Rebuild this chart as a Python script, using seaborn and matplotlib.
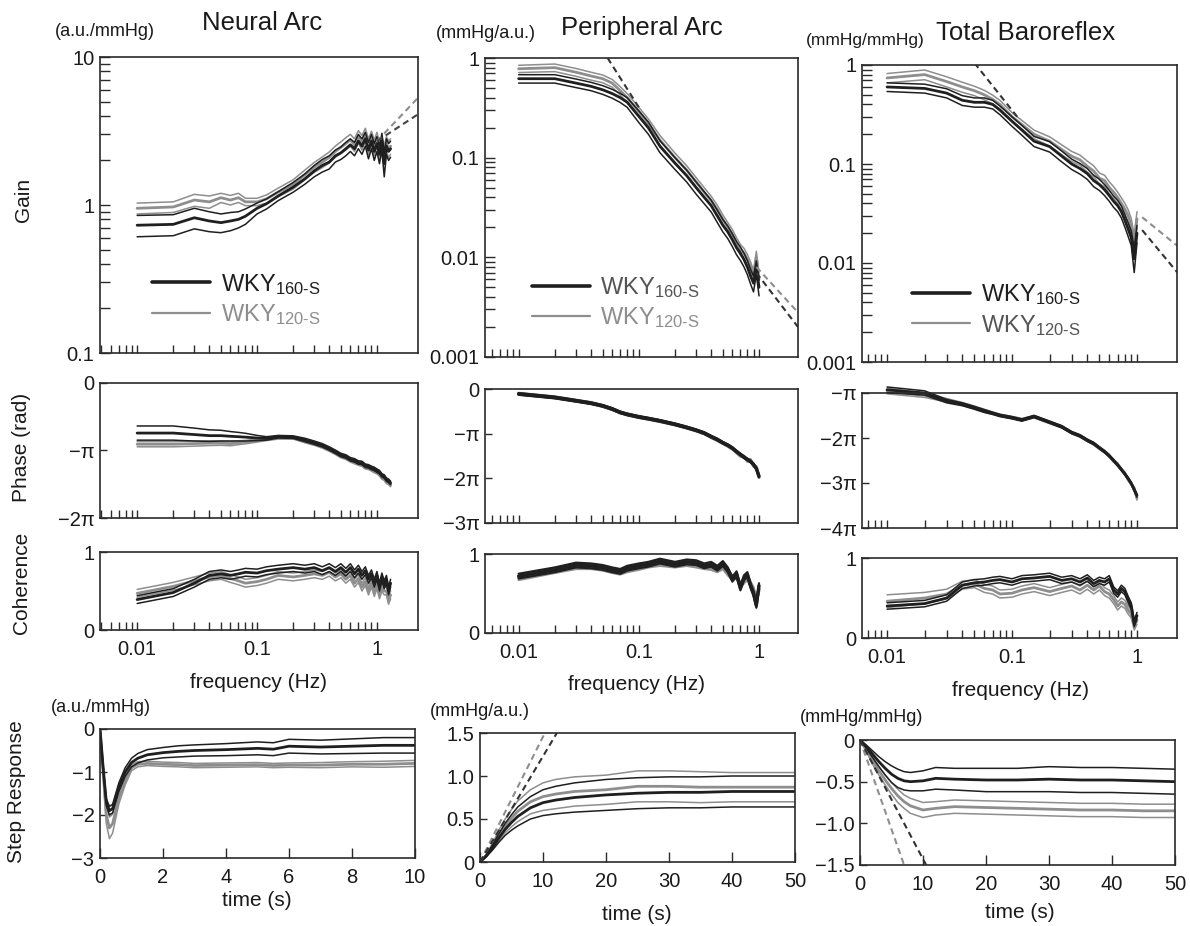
import numpy as np
import pandas as pd
import matplotlib
matplotlib.use("Agg")
import matplotlib.pyplot as plt
import seaborn as sns
from matplotlib.lines import Line2D
from matplotlib.ticker import LogLocator, NullFormatter, FuncFormatter, FixedLocator

# ---------------- DATA ----------------
# frequency grids (Hz)
FREQ_NEURAL = [0.01, 0.02, 0.03, 0.04, 0.05, 0.06, 0.07, 0.08, 0.1, 0.12, 0.15, 0.2,
               0.25, 0.3, 0.35, 0.4, 0.45, 0.5, 0.55, 0.6, 0.65, 0.7, 0.75, 0.8, 0.85,
               0.9, 0.95, 1.0, 1.05, 1.1, 1.15, 1.2, 1.25, 1.3]
FREQ_OTHER = [0.01, 0.02, 0.03, 0.04, 0.05, 0.06, 0.07, 0.08, 0.1, 0.12, 0.15, 0.2,
              0.25, 0.3, 0.35, 0.4, 0.45, 0.5, 0.55, 0.6, 0.65, 0.7, 0.75, 0.8, 0.85,
              0.9, 0.95, 1.0]

# Neural arc (a.u./mmHg)
neural_gain_160 = [0.73, 0.74, 0.82, 0.78, 0.76, 0.78, 0.80, 0.84, 0.95, 1.02, 1.15, 1.32,
                   1.5, 1.7, 1.85, 1.95, 2.15, 2.25, 2.4, 2.55, 2.4, 2.7, 2.5, 2.8, 2.35,
                   2.7, 2.3, 2.6, 2.2, 2.7, 1.9, 2.5, 2.3, 2.4]
neural_gain_160_se = [0.12, 0.12, 0.13, 0.12, 0.11, 0.11, 0.10, 0.10, 0.08, 0.08, 0.08, 0.10,
                      0.12, 0.15, 0.18, 0.2, 0.2, 0.22, 0.25, 0.25, 0.25, 0.3, 0.3, 0.3, 0.3,
                      0.3, 0.3, 0.3, 0.3, 0.35, 0.35, 0.3, 0.3, 0.3]
neural_gain_120 = [0.95, 0.97, 1.08, 1.05, 1.12, 1.08, 1.12, 1.05, 1.05, 1.1, 1.22, 1.38,
                   1.6, 1.8, 1.95, 2.1, 2.3, 2.45, 2.6, 2.75, 2.55, 2.9, 2.65, 3.0, 2.5,
                   2.85, 2.45, 2.8, 2.35, 2.6, 2.2, 2.6, 2.4, 2.5]
neural_gain_120_se = [0.08, 0.08, 0.1, 0.1, 0.08, 0.08, 0.08, 0.06, 0.06, 0.07, 0.08, 0.1,
                      0.12, 0.14, 0.16, 0.18, 0.2, 0.22, 0.25, 0.25, 0.25, 0.28, 0.3, 0.3, 0.3,
                      0.3, 0.3, 0.3, 0.3, 0.3, 0.3, 0.3, 0.3, 0.3]
neural_phase_160 = [-2.33, -2.33, -2.40, -2.45, -2.45, -2.48, -2.50, -2.52, -2.56, -2.58, -2.50, -2.52,
                    -2.65, -2.78, -2.90, -3.05, -3.20, -3.35, -3.42, -3.55, -3.60, -3.70, -3.72, -3.85,
                    -3.88, -3.95, -4.00, -4.08, -4.15, -4.30, -4.35, -4.50, -4.55, -4.65]
neural_phase_160_se = [0.33, 0.33, 0.30, 0.27, 0.25, 0.22, 0.20, 0.18, 0.12, 0.08, 0.06, 0.06,
                       0.08, 0.08, 0.08, 0.08, 0.08, 0.08, 0.08, 0.08, 0.08, 0.08, 0.08, 0.08,
                       0.08, 0.08, 0.08, 0.08, 0.08, 0.08, 0.08, 0.08, 0.08, 0.08]
neural_phase_120 = [-2.85, -2.85, -2.82, -2.80, -2.80, -2.82, -2.78, -2.75, -2.68, -2.62, -2.55, -2.55,
                    -2.70, -2.82, -2.95, -3.10, -3.25, -3.40, -3.48, -3.60, -3.68, -3.75, -3.80, -3.92,
                    -3.95, -4.02, -4.10, -4.15, -4.25, -4.40, -4.45, -4.60, -4.65, -4.75]
neural_phase_120_se = [0.12, 0.12, 0.12, 0.11, 0.10, 0.10, 0.09, 0.08, 0.07, 0.06, 0.06, 0.06,
                       0.08, 0.08, 0.08, 0.08, 0.08, 0.08, 0.08, 0.08, 0.08, 0.08, 0.08, 0.08,
                       0.08, 0.08, 0.08, 0.08, 0.08, 0.08, 0.08, 0.08, 0.08, 0.08]
neural_coh_160 = [0.39, 0.48, 0.60, 0.70, 0.72, 0.70, 0.72, 0.74, 0.73, 0.76, 0.78, 0.80,
                  0.78, 0.80, 0.76, 0.80, 0.75, 0.80, 0.74, 0.80, 0.72, 0.78, 0.70, 0.76,
                  0.65, 0.72, 0.60, 0.70, 0.55, 0.68, 0.58, 0.65, 0.50, 0.60]
neural_coh_160_se = [0.05, 0.05, 0.05, 0.05, 0.05, 0.05, 0.05, 0.05, 0.05, 0.05, 0.05, 0.05,
                     0.05, 0.05, 0.05, 0.05, 0.05, 0.05, 0.05, 0.05, 0.05, 0.05, 0.05, 0.05,
                     0.05, 0.05, 0.05, 0.05, 0.05, 0.05, 0.05, 0.05, 0.05, 0.05]
neural_coh_120 = [0.47, 0.56, 0.63, 0.68, 0.70, 0.66, 0.63, 0.60, 0.62, 0.65, 0.70, 0.68,
                  0.70, 0.72, 0.70, 0.74, 0.68, 0.72, 0.65, 0.70, 0.60, 0.66, 0.55, 0.62,
                  0.50, 0.60, 0.48, 0.58, 0.45, 0.55, 0.50, 0.50, 0.38, 0.45]
neural_coh_120_se = [0.05, 0.05, 0.05, 0.05, 0.05, 0.05, 0.05, 0.05, 0.05, 0.05, 0.05, 0.05,
                     0.05, 0.05, 0.05, 0.05, 0.05, 0.05, 0.05, 0.05, 0.05, 0.05, 0.05, 0.05,
                     0.05, 0.05, 0.05, 0.05, 0.05, 0.05, 0.05, 0.05, 0.05, 0.05]

# Peripheral arc (mmHg/a.u.)
peri_gain_160 = [0.62, 0.62, 0.56, 0.52, 0.48, 0.44, 0.40, 0.36, 0.26, 0.20, 0.13, 0.088,
                 0.066, 0.050, 0.040, 0.033, 0.026, 0.021, 0.018, 0.015, 0.0125, 0.011, 0.0095,
                 0.008, 0.0065, 0.0055, 0.008, 0.005]
peri_gain_160_se = [0.06, 0.06, 0.055, 0.05, 0.048, 0.045, 0.042, 0.04, 0.035, 0.028, 0.018, 0.012,
                    0.009, 0.007, 0.0055, 0.0045, 0.0037, 0.003, 0.0026, 0.0022, 0.0019, 0.0017,
                    0.0015, 0.0013, 0.0011, 0.001, 0.0012, 0.0009]
peri_gain_120 = [0.78, 0.80, 0.72, 0.66, 0.62, 0.56, 0.47, 0.40, 0.29, 0.22, 0.15, 0.10,
                 0.075, 0.057, 0.045, 0.037, 0.030, 0.024, 0.020, 0.017, 0.014, 0.012, 0.011,
                 0.0095, 0.008, 0.0065, 0.010, 0.006]
peri_gain_120_se = [0.065, 0.07, 0.065, 0.06, 0.055, 0.05, 0.045, 0.04, 0.03, 0.025, 0.017, 0.011,
                    0.008, 0.006, 0.005, 0.004, 0.0033, 0.0027, 0.0023, 0.002, 0.0017, 0.0015,
                    0.0013, 0.0012, 0.001, 0.0009, 0.0015, 0.001]
peri_phase_160 = [-0.35, -0.60, -0.83, -1.00, -1.18, -1.40, -1.65, -1.78, -1.96, -2.08, -2.24, -2.48,
                  -2.70, -2.90, -3.10, -3.35, -3.55, -3.78, -3.95, -4.15, -4.40, -4.60, -4.80,
                  -4.95, -5.10, -5.30, -5.60, -6.14]
peri_phase_120 = [-0.33, -0.58, -0.82, -0.98, -1.20, -1.42, -1.63, -1.80, -1.98, -2.10, -2.26, -2.50,
                  -2.72, -2.92, -3.12, -3.38, -3.60, -3.80, -4.00, -4.20, -4.45, -4.70, -4.75,
                  -5.05, -5.00, -5.40, -5.50, -6.20]
peri_phase_se = [0.06, 0.06, 0.06, 0.06, 0.06, 0.06, 0.06, 0.06, 0.06, 0.06, 0.06, 0.06,
                 0.06, 0.06, 0.06, 0.06, 0.06, 0.06, 0.06, 0.06, 0.06, 0.06, 0.06, 0.06,
                 0.06, 0.06, 0.06, 0.06]
peri_coh_160 = [0.72, 0.80, 0.86, 0.85, 0.83, 0.80, 0.78, 0.82, 0.85, 0.87, 0.91, 0.87,
                0.90, 0.89, 0.85, 0.87, 0.82, 0.88, 0.80, 0.68, 0.75, 0.57, 0.70, 0.74,
                0.60, 0.50, 0.35, 0.60]
peri_coh_120 = [0.70, 0.79, 0.84, 0.84, 0.82, 0.79, 0.77, 0.80, 0.83, 0.86, 0.88, 0.86,
                0.88, 0.86, 0.84, 0.83, 0.80, 0.84, 0.76, 0.70, 0.72, 0.60, 0.66, 0.70,
                0.62, 0.55, 0.42, 0.55]
peri_coh_se = [0.03, 0.03, 0.03, 0.03, 0.03, 0.03, 0.03, 0.03, 0.03, 0.03, 0.03, 0.03,
               0.03, 0.03, 0.03, 0.03, 0.03, 0.03, 0.03, 0.03, 0.03, 0.03, 0.03, 0.03,
               0.03, 0.03, 0.03, 0.03]

# Total baroreflex (mmHg/mmHg)
total_gain_160 = [0.60, 0.58, 0.52, 0.44, 0.42, 0.42, 0.40, 0.35, 0.27, 0.22, 0.17, 0.15,
                  0.12, 0.10, 0.09, 0.08, 0.068, 0.062, 0.055, 0.048, 0.042, 0.038, 0.033,
                  0.027, 0.022, 0.018, 0.011, 0.020]
total_gain_160_se = [0.06, 0.06, 0.055, 0.05, 0.045, 0.045, 0.04, 0.035, 0.03, 0.025, 0.02, 0.018,
                     0.015, 0.012, 0.011, 0.01, 0.009, 0.008, 0.007, 0.006, 0.0055, 0.005, 0.0045,
                     0.004, 0.0035, 0.003, 0.003, 0.004]
total_gain_120 = [0.74, 0.80, 0.68, 0.60, 0.55, 0.50, 0.45, 0.40, 0.30, 0.25, 0.20, 0.17,
                  0.14, 0.12, 0.11, 0.095, 0.085, 0.072, 0.068, 0.058, 0.052, 0.046, 0.040,
                  0.035, 0.030, 0.024, 0.016, 0.028]
total_gain_120_se = [0.08, 0.09, 0.08, 0.07, 0.06, 0.055, 0.045, 0.04, 0.03, 0.025, 0.02, 0.018,
                     0.016, 0.014, 0.013, 0.012, 0.011, 0.009, 0.009, 0.008, 0.007, 0.006, 0.0055,
                     0.005, 0.0045, 0.004, 0.003, 0.005]
total_phase_160 = [-2.92, -3.14, -3.71, -3.93, -4.18, -4.40, -4.56, -4.71, -4.87, -5.03, -4.78, -5.18,
                   -5.50, -5.91, -6.13, -6.44, -6.66, -6.97, -7.23, -7.54, -7.85, -8.17, -8.48,
                   -8.80, -9.11, -9.45, -9.90, -10.30]
total_phase_120 = [-3.00, -3.30, -3.65, -3.90, -4.15, -4.38, -4.55, -4.70, -4.85, -5.00, -4.80, -5.20,
                   -5.50, -5.90, -6.15, -6.45, -6.70, -7.00, -7.25, -7.50, -7.90, -8.10, -8.50,
                   -8.75, -9.20, -9.50, -9.80, -10.50]
total_phase_se = [0.20, 0.15, 0.12, 0.10, 0.10, 0.10, 0.08, 0.08, 0.08, 0.08, 0.08, 0.08,
                  0.08, 0.08, 0.08, 0.08, 0.08, 0.08, 0.08, 0.08, 0.08, 0.08, 0.08, 0.08,
                  0.08, 0.08, 0.10, 0.12]
total_coh_160 = [0.40, 0.43, 0.50, 0.66, 0.69, 0.70, 0.72, 0.73, 0.70, 0.74, 0.75, 0.77,
                 0.72, 0.74, 0.70, 0.75, 0.68, 0.72, 0.70, 0.74, 0.60, 0.55, 0.62, 0.58,
                 0.48, 0.40, 0.18, 0.28]
total_coh_160_se = [0.04, 0.04, 0.04, 0.04, 0.04, 0.04, 0.04, 0.04, 0.04, 0.04, 0.04, 0.04,
                    0.04, 0.04, 0.04, 0.04, 0.04, 0.04, 0.04, 0.04, 0.04, 0.04, 0.04, 0.04,
                    0.04, 0.04, 0.04, 0.04]
total_coh_120 = [0.46, 0.50, 0.55, 0.66, 0.68, 0.62, 0.60, 0.55, 0.56, 0.60, 0.63, 0.58,
                 0.62, 0.65, 0.60, 0.66, 0.60, 0.65, 0.58, 0.55, 0.48, 0.40, 0.45, 0.42,
                 0.35, 0.30, 0.15, 0.22]
total_coh_120_se = [0.08, 0.07, 0.06, 0.05, 0.05, 0.05, 0.05, 0.05, 0.05, 0.05, 0.05, 0.05,
                    0.05, 0.05, 0.05, 0.05, 0.05, 0.05, 0.05, 0.05, 0.05, 0.05, 0.05, 0.05,
                    0.05, 0.05, 0.05, 0.05]

# Extrapolation (dashed) lines
neural_dash_f = [1.0, 2.2]
neural_dash_160 = [2.7, 4.1]
neural_dash_120 = [2.7, 5.3]
peri_dash_top_f = [0.055, 0.1]
peri_dash_top = [1.0, 0.32]
peri_dash_f = [0.95, 2.11]
peri_dash_160 = [0.007, 0.002]
peri_dash_120 = [0.008, 0.0028]
total_dash_top_f = [0.05, 0.11]
total_dash_top = [1.05, 0.30]
total_dash_f = [1.1, 2.09]
total_dash_160 = [0.0215, 0.0081]
total_dash_120 = [0.029, 0.015]

# Step responses
TIME_NEURAL = [0, 0.1, 0.2, 0.3, 0.4, 0.5, 0.6, 0.8, 1.0, 1.2, 1.5, 2, 2.5, 3, 4, 5, 5.5, 6, 7, 8, 9, 10]
neural_step_160 = [0, -0.9, -1.7, -1.9, -1.85, -1.6, -1.35, -1.0, -0.78, -0.68, -0.6, -0.55,
                   -0.52, -0.5, -0.48, -0.45, -0.47, -0.4, -0.42, -0.4, -0.38, -0.38]
neural_step_160_se = [0, 0.05, 0.08, 0.1, 0.1, 0.1, 0.1, 0.1, 0.1, 0.11, 0.12, 0.12,
                      0.13, 0.13, 0.14, 0.15, 0.15, 0.16, 0.16, 0.17, 0.18, 0.18]
neural_step_120 = [0, -1.0, -2.0, -2.3, -2.2, -1.9, -1.6, -1.2, -0.9, -0.82, -0.8, -0.82,
                   -0.83, -0.85, -0.84, -0.83, -0.85, -0.84, -0.84, -0.82, -0.82, -0.8]
neural_step_120_se = [0, 0.1, 0.2, 0.25, 0.22, 0.18, 0.14, 0.1, 0.07, 0.06, 0.05, 0.05,
                      0.05, 0.05, 0.05, 0.05, 0.05, 0.05, 0.06, 0.06, 0.07, 0.07]

TIME_PERI = [0, 1, 2, 3, 4, 5, 6, 8, 10, 12, 15, 20, 25, 30, 35, 40, 45, 50]
peri_step_160 = [0, 0.07, 0.17, 0.28, 0.38, 0.46, 0.53, 0.63, 0.69, 0.72, 0.75, 0.78, 0.80,
                 0.81, 0.81, 0.82, 0.82, 0.82]
peri_step_160_se = [0, 0.01, 0.03, 0.05, 0.07, 0.09, 0.11, 0.13, 0.15, 0.16, 0.17, 0.18, 0.18,
                    0.18, 0.18, 0.18, 0.18, 0.18]
peri_step_120 = [0, 0.08, 0.19, 0.31, 0.42, 0.51, 0.59, 0.70, 0.76, 0.79, 0.82, 0.84, 0.88,
                 0.88, 0.87, 0.87, 0.87, 0.87]
peri_step_120_se = [0, 0.01, 0.03, 0.06, 0.08, 0.10, 0.12, 0.14, 0.16, 0.17, 0.17, 0.17, 0.18,
                    0.18, 0.18, 0.17, 0.17, 0.17]
peri_step_dash_t_160 = [0, 12.2]
peri_step_dash_t_120 = [0, 10.3]
peri_step_dash_y = [0, 1.5]

TIME_TOTAL = [0, 1, 2, 3, 4, 5, 6, 7, 8, 10, 12, 15, 20, 25, 30, 35, 40, 45, 50]
total_step_160 = [0, -0.08, -0.17, -0.26, -0.34, -0.41, -0.46, -0.49, -0.50, -0.49, -0.46, -0.47,
                  -0.48, -0.48, -0.47, -0.48, -0.48, -0.49, -0.50]
total_step_160_se = [0, 0.02, 0.04, 0.06, 0.08, 0.10, 0.11, 0.11, 0.11, 0.12, 0.13, 0.13,
                     0.14, 0.14, 0.15, 0.15, 0.15, 0.15, 0.15]
total_step_120 = [0, -0.12, -0.25, -0.37, -0.48, -0.58, -0.67, -0.74, -0.79, -0.84, -0.82, -0.80,
                  -0.81, -0.82, -0.83, -0.84, -0.84, -0.85, -0.85]
total_step_120_se = [0, 0.02, 0.04, 0.05, 0.06, 0.07, 0.08, 0.08, 0.09, 0.09, 0.08, 0.08,
                     0.08, 0.08, 0.08, 0.08, 0.08, 0.08, 0.08]
total_step_dash_t_160 = [0, 10.5]
total_step_dash_t_120 = [0, 7.0]
total_step_dash_y = [0, -1.5]

# ---------------- STYLE ----------------
sns.set_theme(style="white")
plt.rcParams['font.family'] = ['Liberation Sans', 'DejaVu Sans']
plt.rcParams['mathtext.fontset'] = 'custom'
plt.rcParams['mathtext.rm'] = 'Liberation Sans'
plt.rcParams['mathtext.it'] = 'Liberation Sans:italic'
plt.rcParams['mathtext.bf'] = 'Liberation Sans:bold'
plt.rcParams['axes.unicode_minus'] = True

DARK = '#1f1f1f'
GRAY = '#8e8e8e'
SPINE = '#2a2a2a'
TICK_FS = 14.5
W, H = 1190, 926
fig = plt.figure(figsize=(W / 100, H / 100), dpi=100)
fig.patch.set_facecolor('white')

# tick positions on the log-frequency axes (ticks stop at 1 Hz as in the original)
FREQ_MAJOR_TICKS = [0.01, 0.1, 1.0]
FREQ_MINOR_TICKS = [k * 10.0 ** e for e in (-3, -2, -1) for k in range(2, 10)]


def add_ax(x0, x1, y0, y1):
    return fig.add_axes([x0 / W, 1 - y1 / H, (x1 - x0) / W, (y1 - y0) / H])


def base_style(ax):
    ax.set_facecolor('white')
    for s in ax.spines.values():
        s.set_visible(True)
        s.set_color(SPINE)
        s.set_linewidth(1.2)
    ax.tick_params(which='both', direction='in', length=5, width=1.0, color=SPINE,
                   labelsize=TICK_FS, top=False, right=False, bottom=True, left=True,
                   pad=4, labelcolor='#1a1a1a')
    ax.grid(False)


def draw_group(ax, x, mean, se, color, lw_mean=2.0, lw_se=1.1, clip=True):
    m = np.asarray(mean, dtype=float)
    s = np.asarray(se, dtype=float)
    for vals, lw in ((m + s, lw_se), (m - s, lw_se), (m, lw_mean)):
        sns.lineplot(x=x, y=vals, ax=ax, color=color, linewidth=lw, legend=False,
                     sort=False, estimator=None, clip_on=clip)


def dashed(ax, x, y, color):
    sns.lineplot(x=x, y=y, ax=ax, color=color, linewidth=1.5, legend=False, sort=False,
                 estimator=None, dashes=False, linestyle=(0, (3, 2)))


def freq_axis(ax, xlim, show_labels):
    ax.set_xscale('log')
    ax.set_xlim(*xlim)
    ax.xaxis.set_major_locator(FixedLocator(FREQ_MAJOR_TICKS))
    ax.xaxis.set_minor_locator(FixedLocator(FREQ_MINOR_TICKS))
    ax.xaxis.set_minor_formatter(NullFormatter())
    ax.tick_params(axis='x', which='both', bottom=True, direction='in', length=6)
    if show_labels:
        ax.xaxis.set_major_formatter(FuncFormatter(lambda v, p: f"{v:g}"))
        ax.tick_params(axis='x', which='major', pad=7)
    else:
        ax.tick_params(axis='x', which='both', labelbottom=False)
    ax.set_xlabel('')
    ax.set_ylabel('')


def gain_axis(ax, ylim):
    ax.set_yscale('log')
    ax.set_ylim(*ylim)
    ax.yaxis.set_major_locator(LogLocator(base=10, numticks=10))
    ax.yaxis.set_minor_locator(LogLocator(base=10, subs=np.arange(2, 10), numticks=20))
    ax.yaxis.set_minor_formatter(NullFormatter())
    ax.yaxis.set_major_formatter(FuncFormatter(lambda v, p: f"{v:g}"))
    ax.tick_params(axis='y', which='both', left=True, direction='in', length=7)


def add_legend(ax, x_anchor, y_anchor, c160, c120):
    handles = [Line2D([], [], color=DARK, lw=2.6), Line2D([], [], color=GRAY, lw=1.6)]
    labels = [r'WKY$_{\mathrm{160\text{-}S}}$', r'WKY$_{\mathrm{120\text{-}S}}$']
    leg = ax.legend(handles, labels, loc='upper left', bbox_to_anchor=(x_anchor, y_anchor),
                    frameon=False, fontsize=17, handlelength=2.45, handletextpad=0.45,
                    labelspacing=0.25, borderpad=0, borderaxespad=0)
    leg.get_texts()[0].set_color(c160)
    leg.get_texts()[1].set_color(c120)


# column geometry (pixels)
COLS = [
    dict(x=(100, 418), xs=(100, 415), xlim=(0.0049, 2.2)),
    dict(x=(485, 798), xs=(480, 795), xlim=(0.00525, 2.11)),
    dict(x=(862, 1177), xs=(860, 1175), xlim=(0.0063, 2.09)),
]
ROW_GAIN = [(57, 353), (58, 357), (65, 362)]
ROW_PHASE = [(383, 518), (389, 523), (393, 528)]
ROW_COH = [(552, 630), (554, 633), (558, 638)]
ROW_STEP = [(729, 858), (733, 862), (740, 865)]

PI = np.pi

# ---------- Neural arc ----------
c = COLS[0]
ax = add_ax(c['x'][0], c['x'][1], *ROW_GAIN[0]); base_style(ax)
draw_group(ax, FREQ_NEURAL, neural_gain_120, neural_gain_120_se, GRAY)
draw_group(ax, FREQ_NEURAL, neural_gain_160, neural_gain_160_se, DARK)
dashed(ax, neural_dash_f, neural_dash_120, GRAY)
dashed(ax, neural_dash_f, neural_dash_160, '#444444')
freq_axis(ax, c['xlim'], False); gain_axis(ax, (0.1, 10))
add_legend(ax, 0.164, 0.275, DARK, GRAY)

ax = add_ax(c['x'][0], c['x'][1], *ROW_PHASE[0]); base_style(ax)
draw_group(ax, FREQ_NEURAL, neural_phase_120, neural_phase_120_se, GRAY)
draw_group(ax, FREQ_NEURAL, neural_phase_160, neural_phase_160_se, DARK)
freq_axis(ax, c['xlim'], False)
ax.set_ylim(-2 * PI, 0)
ax.set_yticks([0, -PI, -2 * PI], ['0', '\u2212\u03c0', '\u22122\u03c0'])

ax = add_ax(c['x'][0], c['x'][1], *ROW_COH[0]); base_style(ax)
draw_group(ax, FREQ_NEURAL, neural_coh_120, neural_coh_120_se, GRAY)
draw_group(ax, FREQ_NEURAL, neural_coh_160, neural_coh_160_se, DARK)
freq_axis(ax, c['xlim'], True)
ax.set_ylim(0, 1); ax.set_yticks([0, 1], ['0', '1'])

ax = add_ax(c['xs'][0], c['xs'][1], *ROW_STEP[0]); base_style(ax)
draw_group(ax, TIME_NEURAL, neural_step_120, neural_step_120_se, GRAY)
draw_group(ax, TIME_NEURAL, neural_step_160, neural_step_160_se, DARK)
ax.set_xlim(0, 10); ax.set_ylim(-3, 0)
ax.set_xticks([0, 2, 4, 6, 8, 10]); ax.set_yticks([0, -1, -2, -3])
ax.tick_params(axis='x', pad=7, length=7)
ax.set_xlabel(''); ax.set_ylabel('')

# ---------- Peripheral arc ----------
c = COLS[1]
ax = add_ax(c['x'][0], c['x'][1], *ROW_GAIN[1]); base_style(ax)
draw_group(ax, FREQ_OTHER, peri_gain_120, peri_gain_120_se, GRAY)
draw_group(ax, FREQ_OTHER, peri_gain_160, peri_gain_160_se, DARK)
dashed(ax, peri_dash_top_f, peri_dash_top, '#333333')
dashed(ax, peri_dash_f, peri_dash_120, GRAY)
dashed(ax, peri_dash_f, peri_dash_160, '#333333')
freq_axis(ax, c['xlim'], False); gain_axis(ax, (0.001, 1))
add_legend(ax, 0.15, 0.275, '#555555', GRAY)

ax = add_ax(c['x'][0], c['x'][1], *ROW_PHASE[1]); base_style(ax)
draw_group(ax, FREQ_OTHER, peri_phase_120, peri_phase_se, GRAY, lw_mean=2.4, lw_se=1.6)
draw_group(ax, FREQ_OTHER, peri_phase_160, peri_phase_se, DARK, lw_mean=2.4, lw_se=1.6)
freq_axis(ax, c['xlim'], False)
ax.set_ylim(-3 * PI, 0)
ax.set_yticks([0, -PI, -2 * PI, -3 * PI], ['0', '\u2212\u03c0', '\u22122\u03c0', '\u22123\u03c0'])

ax = add_ax(c['x'][0], c['x'][1], *ROW_COH[1]); base_style(ax)
draw_group(ax, FREQ_OTHER, peri_coh_120, peri_coh_se, GRAY, lw_mean=2.4, lw_se=1.6)
draw_group(ax, FREQ_OTHER, peri_coh_160, peri_coh_se, DARK, lw_mean=2.4, lw_se=1.6)
freq_axis(ax, c['xlim'], True)
ax.set_ylim(0, 1); ax.set_yticks([0, 1], ['0', '1'])

ax = add_ax(c['xs'][0], c['xs'][1], *ROW_STEP[1]); base_style(ax)
draw_group(ax, TIME_PERI, peri_step_120, peri_step_120_se, GRAY)
draw_group(ax, TIME_PERI, peri_step_160, peri_step_160_se, DARK)
dashed(ax, peri_step_dash_t_120, peri_step_dash_y, GRAY)
dashed(ax, peri_step_dash_t_160, peri_step_dash_y, '#333333')
ax.set_xlim(0, 50); ax.set_ylim(0, 1.5)
ax.set_xticks([0, 10, 20, 30, 40, 50]); ax.set_yticks([0, 0.5, 1.0, 1.5], ['0', '0.5', '1.0', '1.5'])
ax.tick_params(axis='x', pad=7, length=7)
ax.set_xlabel(''); ax.set_ylabel('')

# ---------- Total baroreflex ----------
c = COLS[2]
ax = add_ax(c['x'][0], c['x'][1], *ROW_GAIN[2]); base_style(ax)
draw_group(ax, FREQ_OTHER, total_gain_120, total_gain_120_se, GRAY)
draw_group(ax, FREQ_OTHER, total_gain_160, total_gain_160_se, DARK)
dashed(ax, total_dash_top_f, total_dash_top, '#333333')
dashed(ax, total_dash_f, total_dash_120, GRAY)
dashed(ax, total_dash_f, total_dash_160, '#333333')
freq_axis(ax, c['xlim'], False); gain_axis(ax, (0.001, 1))
add_legend(ax, 0.159, 0.27, DARK, '#555555')

ax = add_ax(c['x'][0], c['x'][1], *ROW_PHASE[2]); base_style(ax)
draw_group(ax, FREQ_OTHER, total_phase_120, total_phase_se, GRAY, clip=False)
draw_group(ax, FREQ_OTHER, total_phase_160, total_phase_se, DARK, clip=False)
freq_axis(ax, c['xlim'], False)
ax.set_ylim(-4 * PI, -PI)
ax.set_yticks([-PI, -2 * PI, -3 * PI, -4 * PI],
              ['\u2212\u03c0', '\u22122\u03c0', '\u22123\u03c0', '\u22124\u03c0'])

ax = add_ax(c['x'][0], c['x'][1], *ROW_COH[2]); base_style(ax)
draw_group(ax, FREQ_OTHER, total_coh_120, total_coh_120_se, GRAY)
draw_group(ax, FREQ_OTHER, total_coh_160, total_coh_160_se, DARK)
freq_axis(ax, c['xlim'], True)
ax.set_ylim(0, 1); ax.set_yticks([0, 1], ['0', '1'])

ax = add_ax(c['xs'][0], c['xs'][1], *ROW_STEP[2]); base_style(ax)
draw_group(ax, TIME_TOTAL, total_step_120, total_step_120_se, GRAY)
draw_group(ax, TIME_TOTAL, total_step_160, total_step_160_se, DARK)
dashed(ax, total_step_dash_t_120, total_step_dash_y, GRAY)
dashed(ax, total_step_dash_t_160, total_step_dash_y, '#333333')
ax.set_xlim(0, 50); ax.set_ylim(-1.5, 0)
ax.set_xticks([0, 10, 20, 30, 40, 50])
ax.set_yticks([0, -0.5, -1.0, -1.5], ['0', '\u22120.5', '\u22121.0', '\u22121.5'])
ax.tick_params(axis='x', pad=7, length=7)
ax.set_xlabel(''); ax.set_ylabel('')

# ---------- Text ----------
def ftext(s, x, y, size, rot=0, color='#1a1a1a', weight='normal'):
    fig.text(x / W, 1 - y / H, s, ha='center', va='center', fontsize=size,
             rotation=rot, color=color, fontweight=weight)

ftext('Neural Arc', 262, 23, 18.5)
ftext('Peripheral Arc', 642, 28, 18.5)
ftext('Total Baroreflex', 1026, 33, 18.5)
ftext('(a.u./mmHg)', 105, 32, 13)
ftext('(mmHg/a.u.)', 486, 33, 13)
ftext('(mmHg/mmHg)', 865, 40, 12.5)
ftext('(a.u./mmHg)', 101, 707, 13)
ftext('(mmHg/a.u.)', 480, 712, 13)
ftext('(mmHg/mmHg)', 862, 717, 13)
ftext('Gain', 23, 200, 15, rot=90)
ftext('Phase (rad)', 22, 447, 15, rot=90)
ftext('Coherence', 22, 583, 15, rot=90)
ftext('Step Response', 17, 792, 15, rot=90)
ftext('frequency (Hz)', 258, 682, 15)
ftext('frequency (Hz)', 637, 685, 15)
ftext('frequency (Hz)', 1020, 690, 15)
ftext('time (s)', 257, 900, 15)
ftext('time (s)', 637, 915, 15)
ftext('time (s)', 1020, 913, 15)

fig.savefig('out.png', dpi=100, facecolor='white')
